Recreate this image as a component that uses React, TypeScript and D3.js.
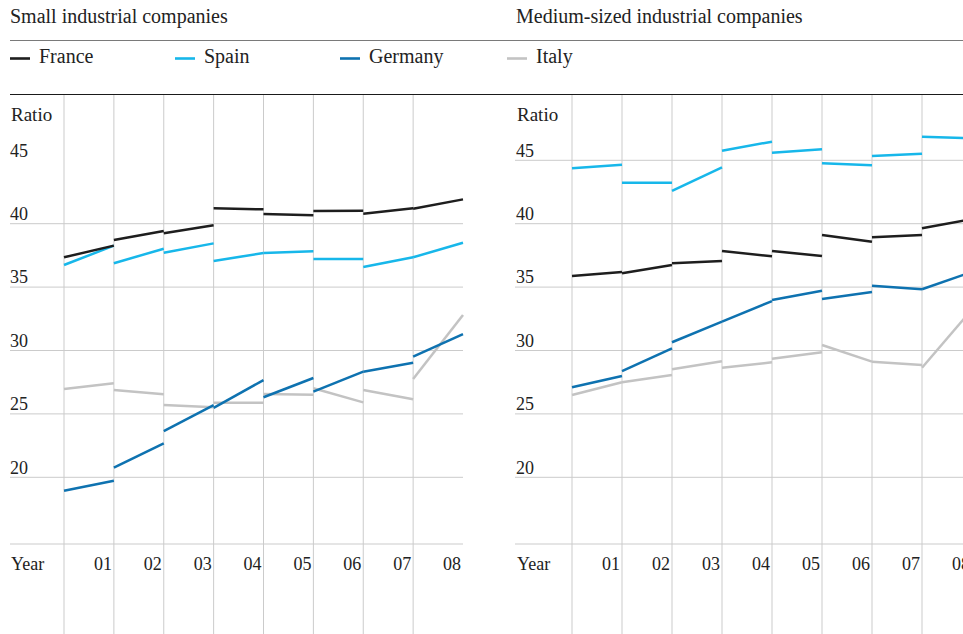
import React from "react";
import * as d3 from "d3";

const years = ["01", "02", "03", "04", "05", "06", "07", "08"];
const yTicks = [20, 25, 30, 35, 40, 45];

const countries = ["France", "Spain", "Germany", "Italy"];
const countryColors = ["#1e1e1e", "#17b7ea", "#0e72b0", "#c3c3c3"];

// Small industrial companies: value at start and end of each year
const smallFranceStart = [37.35, 38.71, 39.24, 41.21, 40.76, 41.0, 40.79, 41.18];
const smallFranceEnd = [38.27, 39.42, 39.87, 41.13, 40.66, 41.03, 41.21, 41.92];
const smallSpainStart = [36.74, 36.88, 37.71, 37.06, 37.69, 37.22, 36.59, 37.35];
const smallSpainEnd = [38.27, 38.03, 38.45, 37.69, 37.82, 37.22, 37.35, 38.5];
const smallGermanyStart = [18.94, 20.76, 23.65, 25.47, 26.31, 26.75, 28.33, 29.51];
const smallGermanyEnd = [19.73, 22.68, 25.7, 27.67, 27.83, 28.33, 29.04, 31.3];
const smallItalyStart = [26.96, 26.88, 25.7, 25.88, 26.57, 27.02, 26.88, 27.75];
const smallItalyEnd = [27.41, 26.55, 25.52, 25.88, 26.51, 25.91, 26.15, 32.8];

// Medium-sized industrial companies
const mediumFranceStart = [35.88, 36.09, 36.88, 37.85, 37.85, 39.11, 38.93, 39.64];
const mediumFranceEnd = [36.19, 36.74, 37.06, 37.43, 37.45, 38.58, 39.11, 40.37];
const mediumSpainStart = [44.37, 43.23, 42.58, 45.76, 45.6, 44.76, 45.34, 46.86];
const mediumSpainEnd = [44.65, 43.23, 44.45, 46.47, 45.87, 44.61, 45.52, 46.74];
const mediumGermanyStart = [27.1, 28.38, 30.65, 32.27, 33.98, 34.06, 35.11, 34.83];
const mediumGermanyEnd = [27.99, 30.17, 32.27, 33.9, 34.72, 34.61, 34.83, 36.2];
const mediumItalyStart = [26.49, 27.49, 28.52, 28.64, 29.35, 30.43, 29.12, 28.64];
const mediumItalyEnd = [27.49, 28.07, 29.15, 29.07, 29.86, 29.12, 28.86, 33.24];

const panels = [
  {
    title: "Small industrial companies",
    starts: [smallFranceStart, smallSpainStart, smallGermanyStart, smallItalyStart],
    ends: [smallFranceEnd, smallSpainEnd, smallGermanyEnd, smallItalyEnd],
    xRange: [64, 463],
    labelX: 10,
    gridX0: 10,
    gridX1: 463,
    gridTicks: [20, 25, 30, 35, 40],
  },
  {
    title: "Medium-sized industrial companies",
    starts: [mediumFranceStart, mediumSpainStart, mediumGermanyStart, mediumItalyStart],
    ends: [mediumFranceEnd, mediumSpainEnd, mediumGermanyEnd, mediumItalyEnd],
    xRange: [572, 972],
    labelX: 516,
    gridX0: 515,
    gridX1: 963,
    gridTicks: [20, 25, 30, 35, 40, 45],
  },
];

const W = 963;
const H = 634;
const FONT = "Liberation Serif, DejaVu Serif, serif";
const TEXT = "#222";
const GRID = "#cbcbcb";

const y = d3.scaleLinear().domain([20, 40]).range([477.3, 223.7]);
const baselineY = 544;

const T = (props: any) => (
  <text {...props} style={{ fontFamily: FONT }} fill={TEXT} />
);

export default function App() {
  const line = d3.line<[number, number]>().x((d) => d[0]).y((d) => d[1]);
  const legendX = [10, 175, 340, 507];

  return (
    <svg
      width={W}
      height={H}
      style={{ position: "absolute", left: 0, top: 0, background: "#fff", fontFamily: FONT }}
    >
      {/* top rules */}
      <line x1={10} x2={W} y1={40.5} y2={40.5} stroke="#7a7a7a" strokeWidth={1.2} />
      <line x1={10} x2={W} y1={94.5} y2={94.5} stroke="#1a1a1a" strokeWidth={1.2} />

      {/* legend */}
      {countries.map((c, i) => (
        <g key={c}>
          <line
            x1={legendX[i]}
            x2={legendX[i] + 20}
            y1={58.5}
            y2={58.5}
            stroke={countryColors[i]}
            strokeWidth={2.6}
          />
          <T x={legendX[i] + 29} y={63.3} fontSize={20}>
            {c}
          </T>
        </g>
      ))}

      {panels.map((p, pi) => {
        const x = d3.scaleLinear().domain([0, 8]).range(p.xRange);
        return (
          <g key={pi}>
            <T x={p.labelX} y={22.5} fontSize={20}>
              {p.title}
            </T>
            {/* vertical grid */}
            {d3.range(0, 8).map((i) => (
              <line
                key={"v" + i}
                x1={x(i)}
                x2={x(i)}
                y1={95}
                y2={H}
                stroke={GRID}
                strokeWidth={1}
              />
            ))}
            {/* horizontal grid */}
            {p.gridTicks.map((t) => (
              <line
                key={"h" + t}
                x1={p.gridX0}
                x2={p.gridX1}
                y1={y(t)}
                y2={y(t)}
                stroke={GRID}
                strokeWidth={1}
              />
            ))}
            <line
              x1={p.gridX0}
              x2={p.gridX1}
              y1={baselineY}
              y2={baselineY}
              stroke={GRID}
              strokeWidth={1}
            />
            {/* y labels */}
            <T x={p.labelX + 1} y={121} fontSize={19}>
              Ratio
            </T>
            {yTicks.map((t) => (
              <T key={"t" + t} x={p.labelX} y={y(t) - 3.8} fontSize={18}>
                {t}
              </T>
            ))}
            {/* x labels */}
            <T x={p.labelX + 1} y={570} fontSize={18}>
              Year
            </T>
            {years.map((yr, i) => (
              <T key={yr} x={x(i + 1) - 2} y={570} fontSize={18} textAnchor="end">
                {yr}
              </T>
            ))}
            {/* series: one segment per year, drawn back to front */}
            {[3, 2, 1, 0].map((ci) =>
              years.map((yr, i) => (
                <path
                  key={ci + "-" + yr}
                  d={
                    line([
                      [x(i), y(p.starts[ci][i])],
                      [x(i + 1), y(p.ends[ci][i])],
                    ]) || ""
                  }
                  fill="none"
                  stroke={countryColors[ci]}
                  strokeWidth={2.5}
                />
              ))
            )}
          </g>
        );
      })}
    </svg>
  );
}
